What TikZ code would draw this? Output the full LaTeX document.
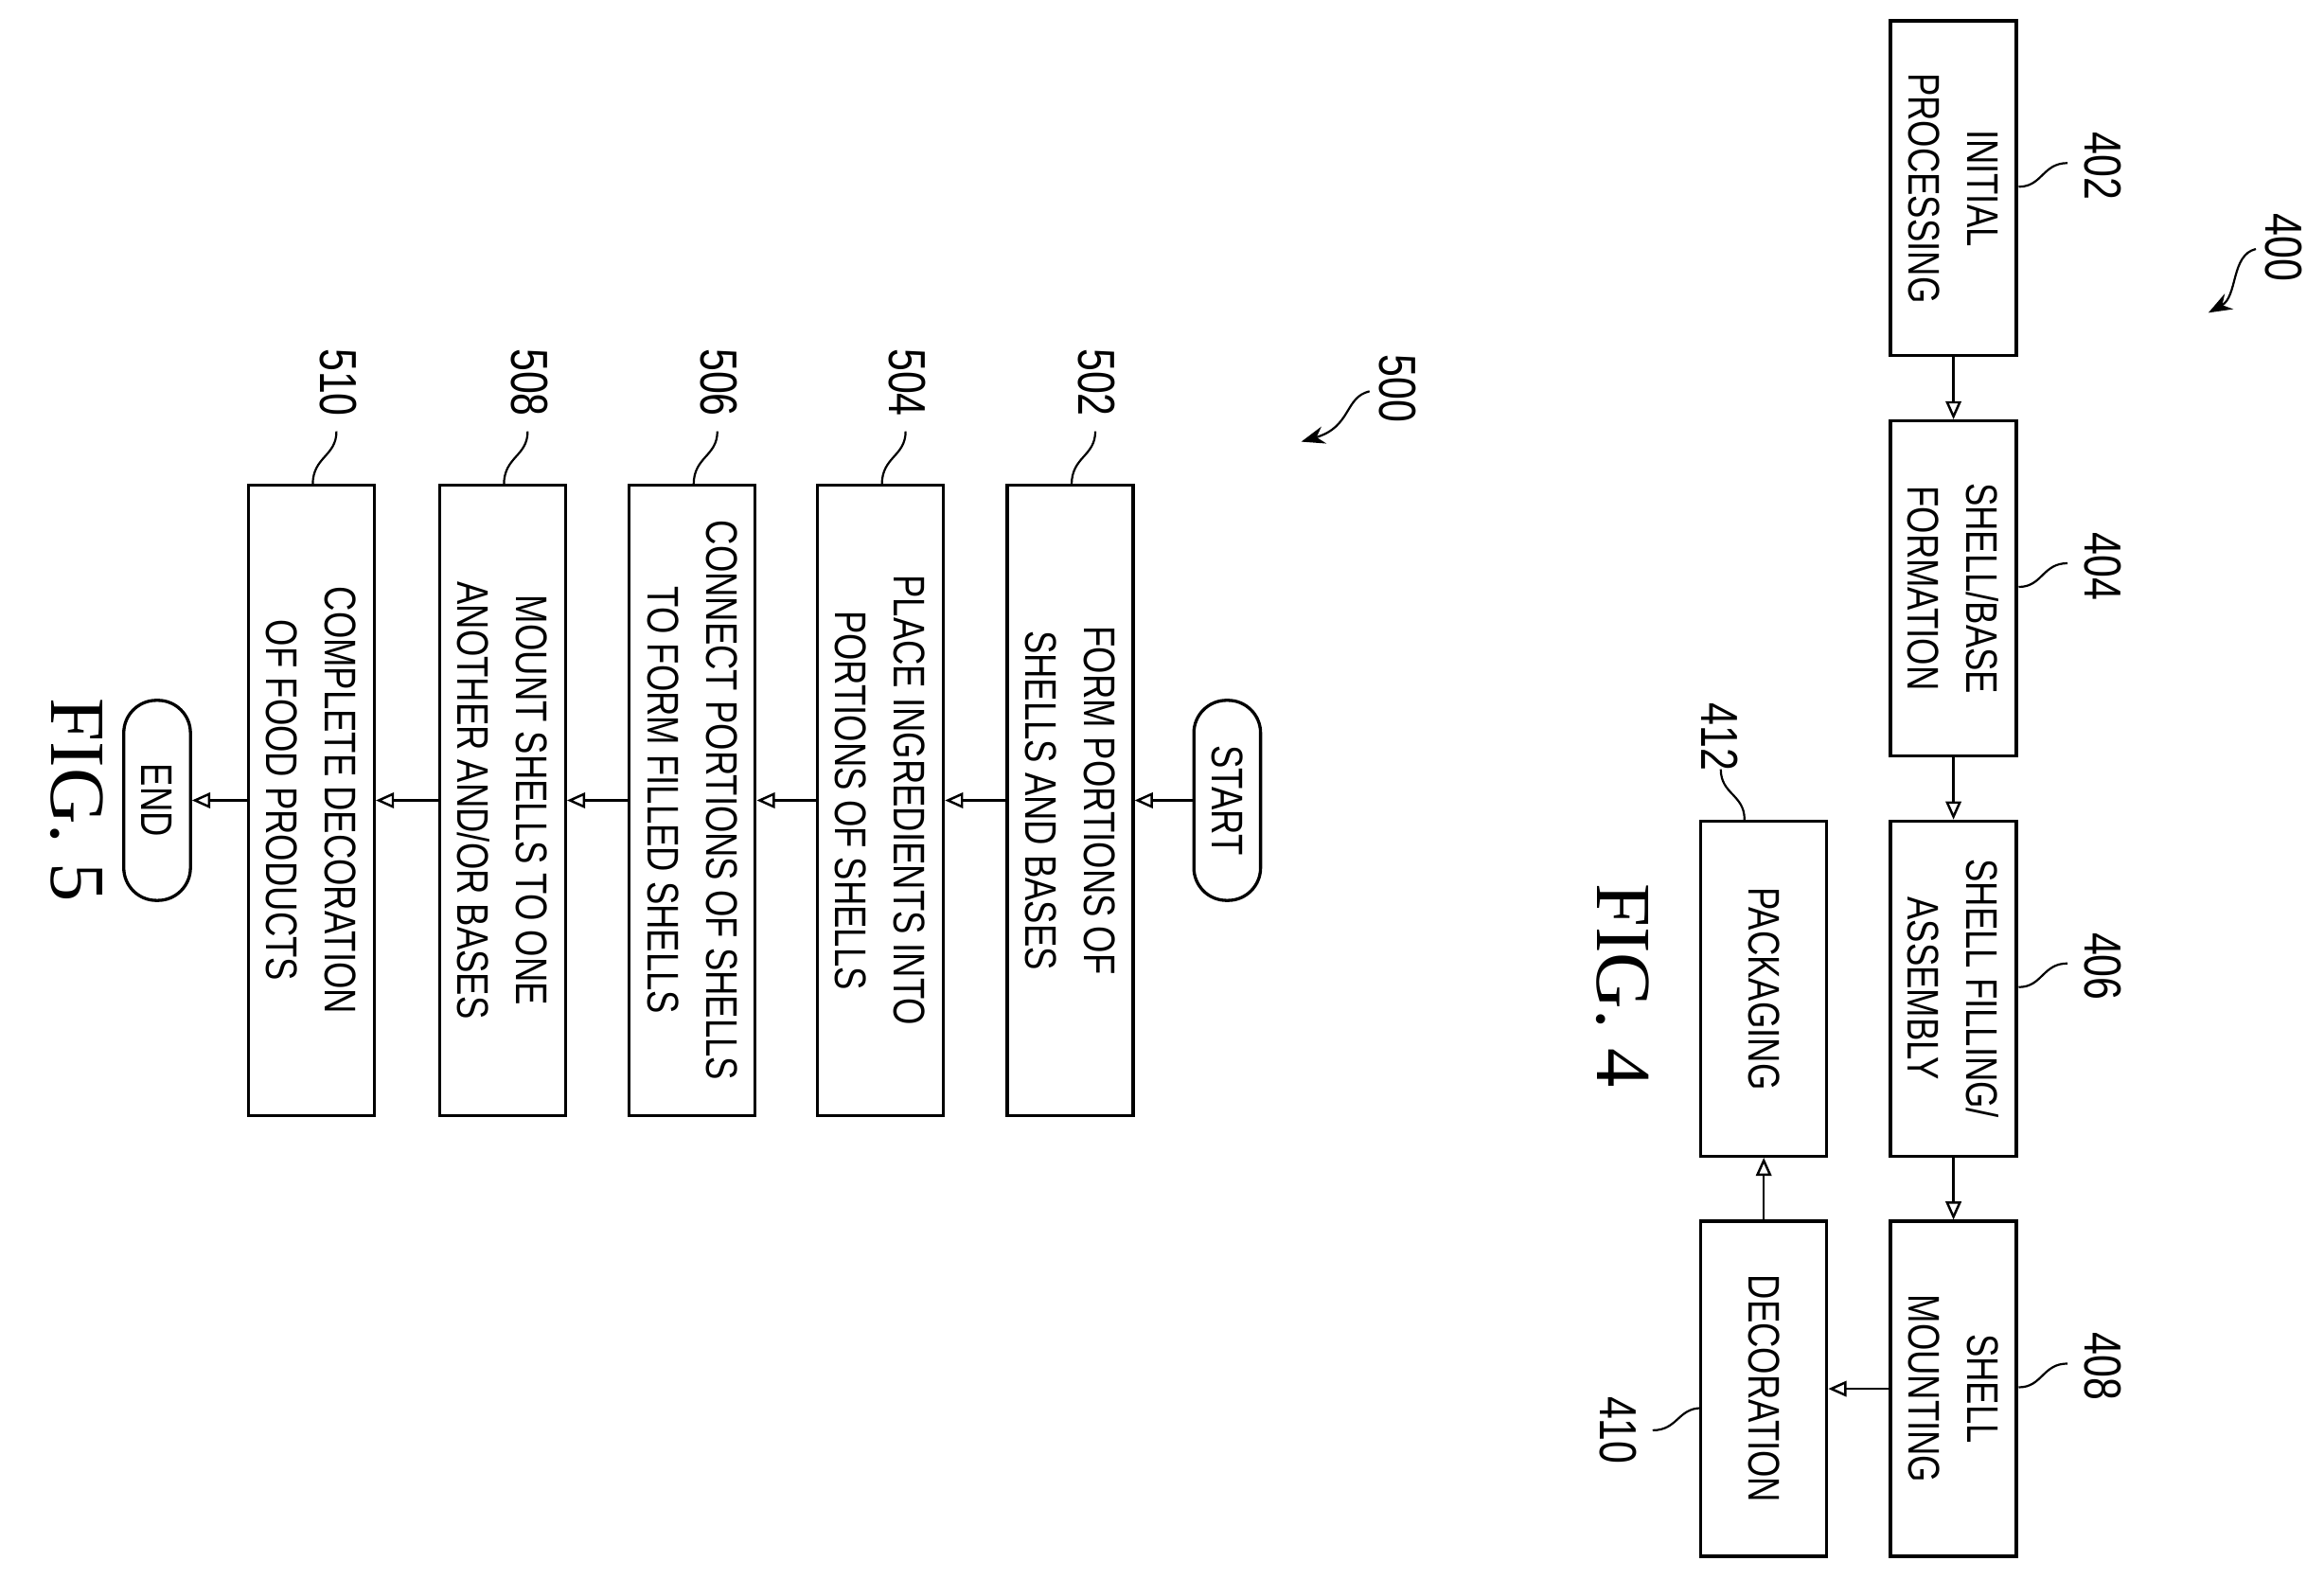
\documentclass[tikz,border=0pt]{standalone}
\usepackage{fontspec}
\setmainfont{Liberation Serif}
\newfontfamily\cond[FakeStretch=0.78]{Liberation Sans}
\usetikzlibrary{arrows.meta}
\begin{document}
\begin{tikzpicture}[x=0.02cm,y=-0.02cm,
  box/.style={draw,line width=1.2pt,minimum height=85*0.02cm,inner sep=0pt,rotate=-90,font=\cond\fontsize{17}{22.5}\selectfont,align=center},
  term/.style={draw,line width=1.2pt,rounded corners=22*0.02cm,minimum height=45*0.02cm,minimum width=135*0.02cm,inner sep=0pt,rotate=-90,font=\cond\fontsize{17}{20}\selectfont},
  lab/.style={rotate=-90,font=\cond\fontsize{20}{22}\selectfont},
  fig/.style={rotate=-90,font=\rmfamily\fontsize{30}{34}\selectfont},
  arr/.style={-{Triangle[open,length=7pt,width=6pt]},line width=0.9pt},
  lead/.style={line width=0.8pt}]
\useasboundingbox (0,0) rectangle (1568,1065);
% FIG 4
\foreach \n/\x/\y/\t in {402/1318/127/{INITIAL\\PROCESSING},404/1318/397/{SHELL/BASE\\FORMATION},406/1318/667/{SHELL FILLING/\\ASSEMBLY},408/1318/937/{SHELL\\MOUNTING},410/1190/937/{DECORATION},412/1190/667/{PACKAGING}}
  \node[box,minimum width=226*0.02cm] (b\n) at (\x,\y) {\t};
\draw[arr] (b402) -- (b404);
\draw[arr] (b404) -- (b406);
\draw[arr] (b406) -- (b408);
\draw[arr] (b408) -- (b410);
\draw[arr] (b410) -- (b412);
\foreach \n/\y in {402/112,404/382,406/652,408/922}{
  \node[lab] (l\n) at (1419,\y) {\n};
  \draw[lead] (1395,\y-2) .. controls (1378,\y-2) and (1378,\y+14) .. (1362,\y+14);}
\node[lab] (l410) at (1092,965) {410};
\draw[lead] (1115,965) .. controls (1132,965) and (1132,950) .. (1148,950);
\node[lab] (l412) at (1160,497) {412};
\draw[lead] (1161,519) .. controls (1161,536) and (1177,536) .. (1177,553);
\node[lab] (l400) at (1541,167) {400};
\coordinate (t400) at (1490,211);
\draw[lead,-{Stealth[length=9pt]}] (1522,168) .. controls (1505,172) and (1510,200) .. (t400);
\node[fig] (f4) at (1095,665) {FIG. 4};
% FIG 5
\node[term] (start) at (828,540) {START};
\foreach \n/\x/\t in {502/722/{FORM PORTIONS OF\\SHELLS AND BASES},504/594/{PLACE INGREDIENTS INTO\\PORTIONS OF SHELLS},506/467/{CONNECT PORTIONS OF SHELLS\\TO FORM FILLED SHELLS},508/339/{MOUNT SHELLS TO ONE\\ANOTHER AND/OR BASES},510/210/{COMPLETE DECORATION\\OF FOOD PRODUCTS}}{
  \node[box,minimum width=425*0.02cm] (b\n) at (\x,540) {\t};
  \node[lab] (l\n) at (\x+18,258) {\n};
  \draw[lead] (\x+17,291) .. controls (\x+17,308) and (\x+1,308) .. (\x+1,327);}
\node[term] (end) at (106,540) {END};
\draw[arr] (start) -- (b502);
\draw[arr] (b502) -- (b504);
\draw[arr] (b504) -- (b506);
\draw[arr] (b506) -- (b508);
\draw[arr] (b508) -- (b510);
\draw[arr] (b510) -- (end);
\node[lab] (l500) at (943,262) {500};
\coordinate (t500) at (878,298);
\draw[lead,-{Stealth[length=9pt]}] (924,264) .. controls (907,268) and (912,288) .. (t500);
\node[fig] (f5) at (52,540) {FIG. 5};
\end{tikzpicture}
\end{document}
